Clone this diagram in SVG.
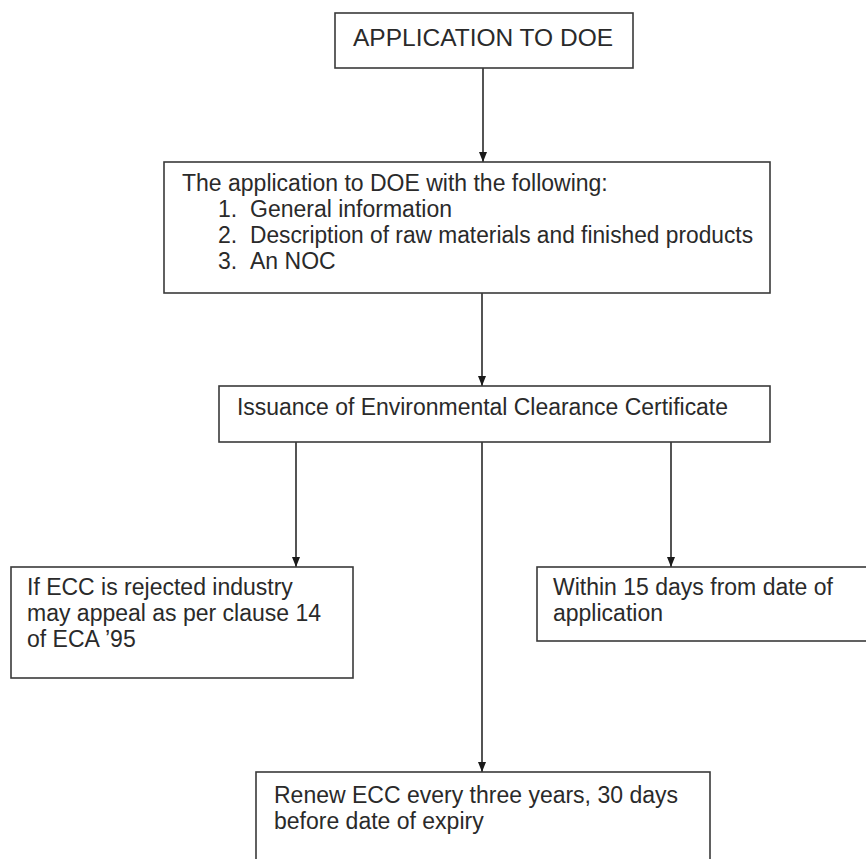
<svg xmlns="http://www.w3.org/2000/svg" width="866" height="859" viewBox="0 0 866 859">
  <style>
    .box { fill: #ffffff; stroke: #3a3a3a; stroke-width: 1.6; }
    .txt { font-family: "Liberation Sans", Arial, sans-serif; font-size: 23px; fill: #2a2a2a; }
    .title { font-size: 24.5px; }
    .wire { stroke: #2a2a2a; stroke-width: 1.6; fill: none; marker-end: url(#arrow); }
  </style>
  <defs>
    <marker id="arrow" viewBox="0 0 10 10" refX="10" refY="5" markerWidth="10" markerHeight="10" markerUnits="userSpaceOnUse" orient="auto">
      <path d="M0,1 L10,5 L0,9 Z" fill="#1a1a1a"/>
    </marker>
  </defs>
  <rect width="866" height="859" fill="#ffffff"/>

  <!-- connectors -->
  <g id="connectors">
    <line class="wire" x1="483" y1="68" x2="483" y2="162"/>
    <line class="wire" x1="482" y1="293" x2="482" y2="386"/>
    <line class="wire" x1="296" y1="442" x2="296" y2="567"/>
    <line class="wire" x1="671" y1="442" x2="671" y2="567"/>
    <line class="wire" x1="482" y1="442" x2="482" y2="772"/>
  </g>

  <!-- application to DOE -->
  <g id="n-application">
    <rect class="box" x="335" y="13" width="298" height="55"/>
    <text class="txt title" x="353" y="46">APPLICATION TO DOE</text>
  </g>

  <!-- application contents -->
  <g id="n-contents">
    <rect class="box" x="164" y="162" width="606" height="131"/>
    <text class="txt" x="182" y="191">The application to DOE with the following:</text>
    <text class="txt" x="218" y="217">1.</text>
    <text class="txt" x="250" y="217">General information</text>
    <text class="txt" x="218" y="243">2.</text>
    <text class="txt" x="250" y="243" textLength="503" lengthAdjust="spacingAndGlyphs">Description of raw materials and finished products</text>
    <text class="txt" x="218" y="269">3.</text>
    <text class="txt" x="250" y="269">An NOC</text>
  </g>

  <!-- certificate issuance -->
  <g id="n-issuance">
    <rect class="box" x="219" y="386" width="551" height="56"/>
    <text class="txt" x="237" y="415" textLength="491" lengthAdjust="spacingAndGlyphs">Issuance of Environmental Clearance Certificate</text>
  </g>

  <!-- rejection / appeal -->
  <g id="n-appeal">
    <rect class="box" x="11" y="567" width="342" height="111"/>
    <text class="txt" x="27" y="595">If ECC is rejected industry</text>
    <text class="txt" x="27" y="621">may appeal as per clause 14</text>
    <text class="txt" x="27" y="647">of ECA ’95</text>
  </g>

  <!-- time limit -->
  <g id="n-within">
    <rect class="box" x="537" y="567" width="340" height="74"/>
    <text class="txt" x="553" y="595">Within 15 days from date of</text>
    <text class="txt" x="553" y="621">application</text>
  </g>

  <!-- renewal -->
  <g id="n-renew">
    <rect class="box" x="256" y="772" width="454" height="100"/>
    <text class="txt" x="274" y="803">Renew ECC every three years, 30 days</text>
    <text class="txt" x="274" y="829">before date of expiry</text>
  </g>
</svg>
